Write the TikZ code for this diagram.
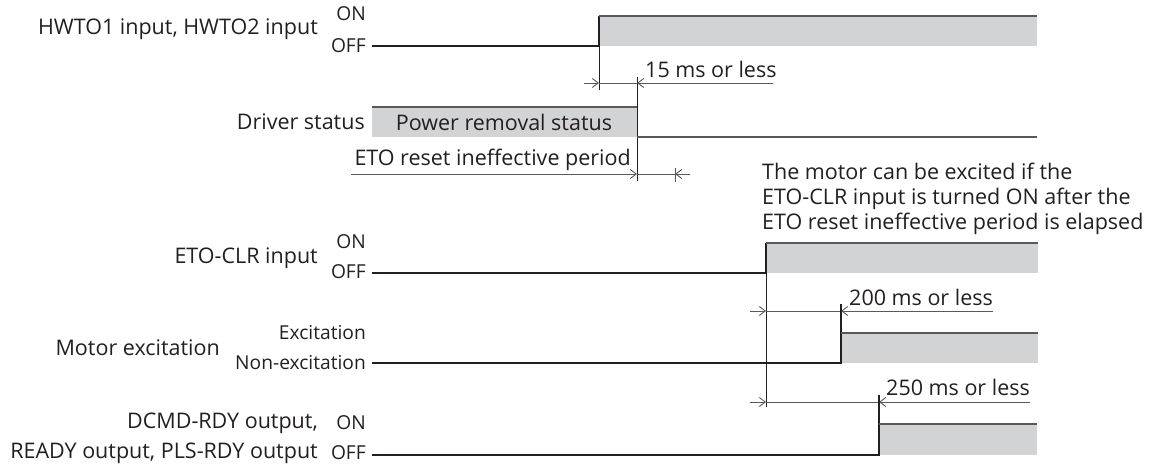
\documentclass[tikz,border=0pt]{standalone}
\usepackage{fontspec}
\setmainfont{Open Sans}
\usetikzlibrary{arrows.meta, positioning}
\definecolor{TDtext}{HTML}{231F20}
\definecolor{TDgray}{HTML}{D1D3D4}
\definecolor{TDedge}{HTML}{58595B}

\begin{document}
\begin{tikzpicture}[x=1pt, y=-1pt,
      lbl/.style={anchor=east, inner sep=0pt, text=TDtext, font=\fontsize{21.5}{23}\selectfont},
      lvl/.style={anchor=east, inner sep=0pt, text=TDtext, font=\fontsize{19.2}{21}\selectfont},
      note/.style={inner sep=0pt, text=TDtext, font=\fontsize{21.5}{25}\selectfont},
      hi/.style={fill=TDgray},
      sig/.style={draw=TDtext, line width=1.2pt},
      topedge/.style={draw=TDedge, line width=2pt},
      dim/.style={draw=TDedge, line width=0.9pt},
      arr/.style={-{Straight Barb[length=6pt, width=9pt]}, draw=TDedge, line width=0.9pt}]
   \useasboundingbox (0,0) rectangle (1157,468);
   % Signal edges
   \coordinate (hw) at (599,46);
   \coordinate (dv) at (637,137);
   \coordinate (ec) at (766,273);
   \coordinate (mx) at (841,363);
   \coordinate (rd) at (879,455);
   % Row 1: HWTO inputs
   \node[lbl] (hwtolbl) at (318,29) {HWTO1 input, HWTO2 input};
   \node[lvl] (on1) at (366,14) {ON};
   \node[lvl] (off1) at (366,46) {OFF};
   \fill[hi] (hw) ++(0,-30) rectangle (1037,46);
   \draw[sig] (372,46) -- (hw) -- ++(0,-30);
   \draw[topedge] (599,16) -- (1037,16);
   \draw[sig, line width=0.8pt] (hw) -- (599,90);
   % Row 2: driver status
   \node[lbl, anchor=east] (drvlbl) at (365,122) {Driver status};
   \fill[hi] (372,107) rectangle (dv);
   \node[note] (pwr) at (504,122) {Power removal status};
   \draw[topedge] (372,107) -- (637,107);
   \draw[sig, line width=0.8pt] (637,77) -- (637,181);
   \draw[topedge] (dv) -- (1037,137);
   % 15 ms
   \node[note, anchor=west] (t15) at (645,69) {15 ms or less};
   \draw[dim] (599,83) -- (637,83);
   \draw[arr] (584,83) -- (599,83);
   \draw[arr] (773,83) -- (637,83);
   % ETO reset ineffective period
   \node[note, anchor=east] (etop) at (631,160) {ETO reset ineffective period};
   \draw[arr] (351,174) -- (637,174);
   \draw[dim] (637,174) -- (675,174);
   \draw[arr] (690,174) -- (675,174);
   \draw[dim] (675,168) -- (675,182);
   \node[note, anchor=north west, align=left] (hint) at (762,163)
      {The motor can be excited if the\\ETO-CLR input is turned ON after the\\ETO reset ineffective period is elapsed};
   % Row 3: ETO-CLR input
   \node[lbl] (etolbl) at (318,258) {ETO-CLR input};
   \node[lvl] (on3) at (366,242) {ON};
   \node[lvl] (off3) at (366,272) {OFF};
   \fill[hi] (ec) ++(0,-30) rectangle (1038,273);
   \draw[sig] (372,273) -- (ec) -- ++(0,-30);
   \draw[topedge] (766,243) -- (1038,243);
   \draw[sig, line width=0.8pt] (ec) -- (766,407);
   % 200 ms
   \node[note, anchor=west] (t200) at (849,297) {200 ms or less};
   \draw[dim] (766,311) -- (841,311);
   \draw[arr] (750,311) -- (766,311);
   \draw[arr] (993,311) -- (841,311);
   % Row 4: motor excitation
   \node[lbl] (motlbl) at (220,348) {Motor excitation};
   \node[lvl] (exc) at (366,333) {Excitation};
   \node[lvl] (nexc) at (366,363) {Non-excitation};
   \fill[hi] (mx) ++(0,-30) rectangle (1038,363);
   \draw[sig] (372,363) -- (mx) -- (841,304);
   \draw[topedge] (841,333) -- (1038,333);
   % 250 ms
   \node[note, anchor=west] (t250) at (886,387) {250 ms or less};
   \draw[dim] (766,402) -- (879,402);
   \draw[arr] (750,402) -- (766,402);
   \draw[arr] (1030,402) -- (879,402);
   % Row 5: ready outputs
   \node[lbl] (rdylbl1) at (318,423) {DCMD-RDY output,};
   \node[lbl] (rdylbl2) at (318,453) {READY output, PLS-RDY output};
   \node[lvl] (on5) at (366,423) {ON};
   \node[lvl] (off5) at (366,453) {OFF};
   \fill[hi] (rd) ++(0,-31) rectangle (1037,455);
   \draw[sig] (372,455) -- (rd) -- (879,395);
   \draw[topedge] (879,424) -- (1037,424);
\end{tikzpicture}
\end{document}
